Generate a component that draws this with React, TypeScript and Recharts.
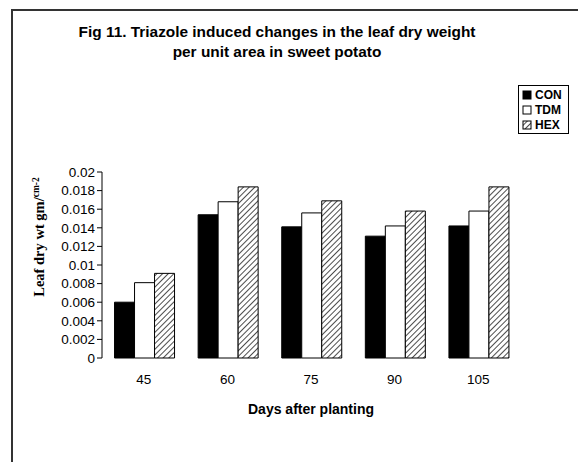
import { BarChart, Bar, XAxis, YAxis, Legend } from 'recharts';

const days = ['45', '60', '75', '90', '105'];
const con = [0.006, 0.0154, 0.0141, 0.0131, 0.0142];
const tdm = [0.0081, 0.0168, 0.0156, 0.0142, 0.0158];
const hex = [0.0091, 0.0184, 0.0169, 0.0158, 0.0184];
const yTicks = [0, 0.002, 0.004, 0.006, 0.008, 0.01, 0.012, 0.014, 0.016, 0.018, 0.02];
const edgeTicks = [0, 1, 2, 3, 4, 5];

const data = days.map((d, i) => ({ day: d, CON: con[i], TDM: tdm[i], HEX: hex[i] }));

const font = '"Liberation Sans", Arial, sans-serif';

function LegendBox() {
  const items = [
    { name: 'CON', fill: '#000' },
    { name: 'TDM', fill: '#fff' },
    { name: 'HEX', fill: 'url(#hatch)' },
  ];
  return (
    <div style={{ border: '1px solid #000', background: '#fff', padding: '1px 4px 1px 3px', width: 42 }}>
      {items.map((it) => (
        <div key={it.name} style={{ display: 'flex', alignItems: 'center', height: 15, fontFamily: font, fontWeight: 'bold', fontSize: 12 }}>
          <svg width={10} height={10} style={{ marginRight: 3 }}>
            <rect x={1} y={1} width={8} height={8} fill={it.fill} stroke="#000" strokeWidth={1} />
          </svg>
          {it.name}
        </div>
      ))}
    </div>
  );
}

export default function App() {
  return (
    <div style={{ position: 'absolute', left: 0, top: 0, width: 578, height: 462, background: '#fff', overflow: 'hidden' }}>
      <div style={{ position: 'absolute', left: 11, top: 9, width: 600, height: 500, borderLeft: '2px solid #333', borderTop: '2px solid #333' }} />
      <div style={{ position: 'absolute', left: 0, top: 22, width: 554, textAlign: 'center', fontFamily: font, fontWeight: 'bold', fontSize: 15.4, lineHeight: '20px' }}>
        Fig 11. Triazole induced changes in the leaf dry weight<br />per unit area in sweet potato
      </div>
      <BarChart
        width={578}
        height={462}
        data={data}
        margin={{ top: 172, right: 58, bottom: 74, left: 42 }}
        barCategoryGap="15%"
        barGap={0}
        style={{ position: 'absolute', left: 0, top: 0 }}
      >
        <defs>
          <pattern id="hatch" patternUnits="userSpaceOnUse" width={4} height={4} patternTransform="rotate(45)">
            <rect width={4} height={4} fill="#fff" />
            <line x1={0} y1={0} x2={0} y2={4} stroke="#000" strokeWidth={1.4} />
          </pattern>
        </defs>
        <XAxis
          xAxisId="edges"
          type="number"
          domain={[0, 5]}
          ticks={edgeTicks}
          tickFormatter={() => ''}
          height={0}
          stroke="#000"
          tickSize={5}
        />
        <XAxis
          dataKey="day"
          axisLine={false}
          tickLine={false}
          tickMargin={10}
          height={30}
          tick={{ fill: '#000', fontSize: 13.5, fontFamily: font }}
          label={{ value: 'Days after planting', position: 'insideBottom', offset: -26, fill: '#000', fontSize: 14, fontWeight: 'bold', fontFamily: font }}
        />
        <YAxis
          domain={[0, 0.02]}
          ticks={yTicks}
          interval={0}
          width={60}
          stroke="#000"
          tickSize={5}
          tick={{ fill: '#000', fontSize: 13.5, fontFamily: font }}
        />
        <Legend
          layout="vertical"
          align="center"
          verticalAlign="middle"
          content={<LegendBox />}
          wrapperStyle={{ position: 'absolute', left: 518, top: 85, width: 51 }}
        />
        <Bar dataKey="CON" fill="#000" stroke="#000" strokeWidth={1} isAnimationActive={false} />
        <Bar dataKey="TDM" fill="#fff" stroke="#000" strokeWidth={1} isAnimationActive={false} />
        <Bar dataKey="HEX" fill="url(#hatch)" stroke="#000" strokeWidth={1} isAnimationActive={false} />
        <text
          x={44}
          y={237}
          transform="rotate(-90 44 237)"
          textAnchor="middle"
          fontFamily='"Liberation Serif", "Times New Roman", serif'
          fontWeight="bold"
          fontSize={14.5}
          fill="#000"
        >
          Leaf  dry wt gm/<tspan fontSize={9.5} dy={-5}>cm-2</tspan>
        </text>
      </BarChart>
    </div>
  );
}
